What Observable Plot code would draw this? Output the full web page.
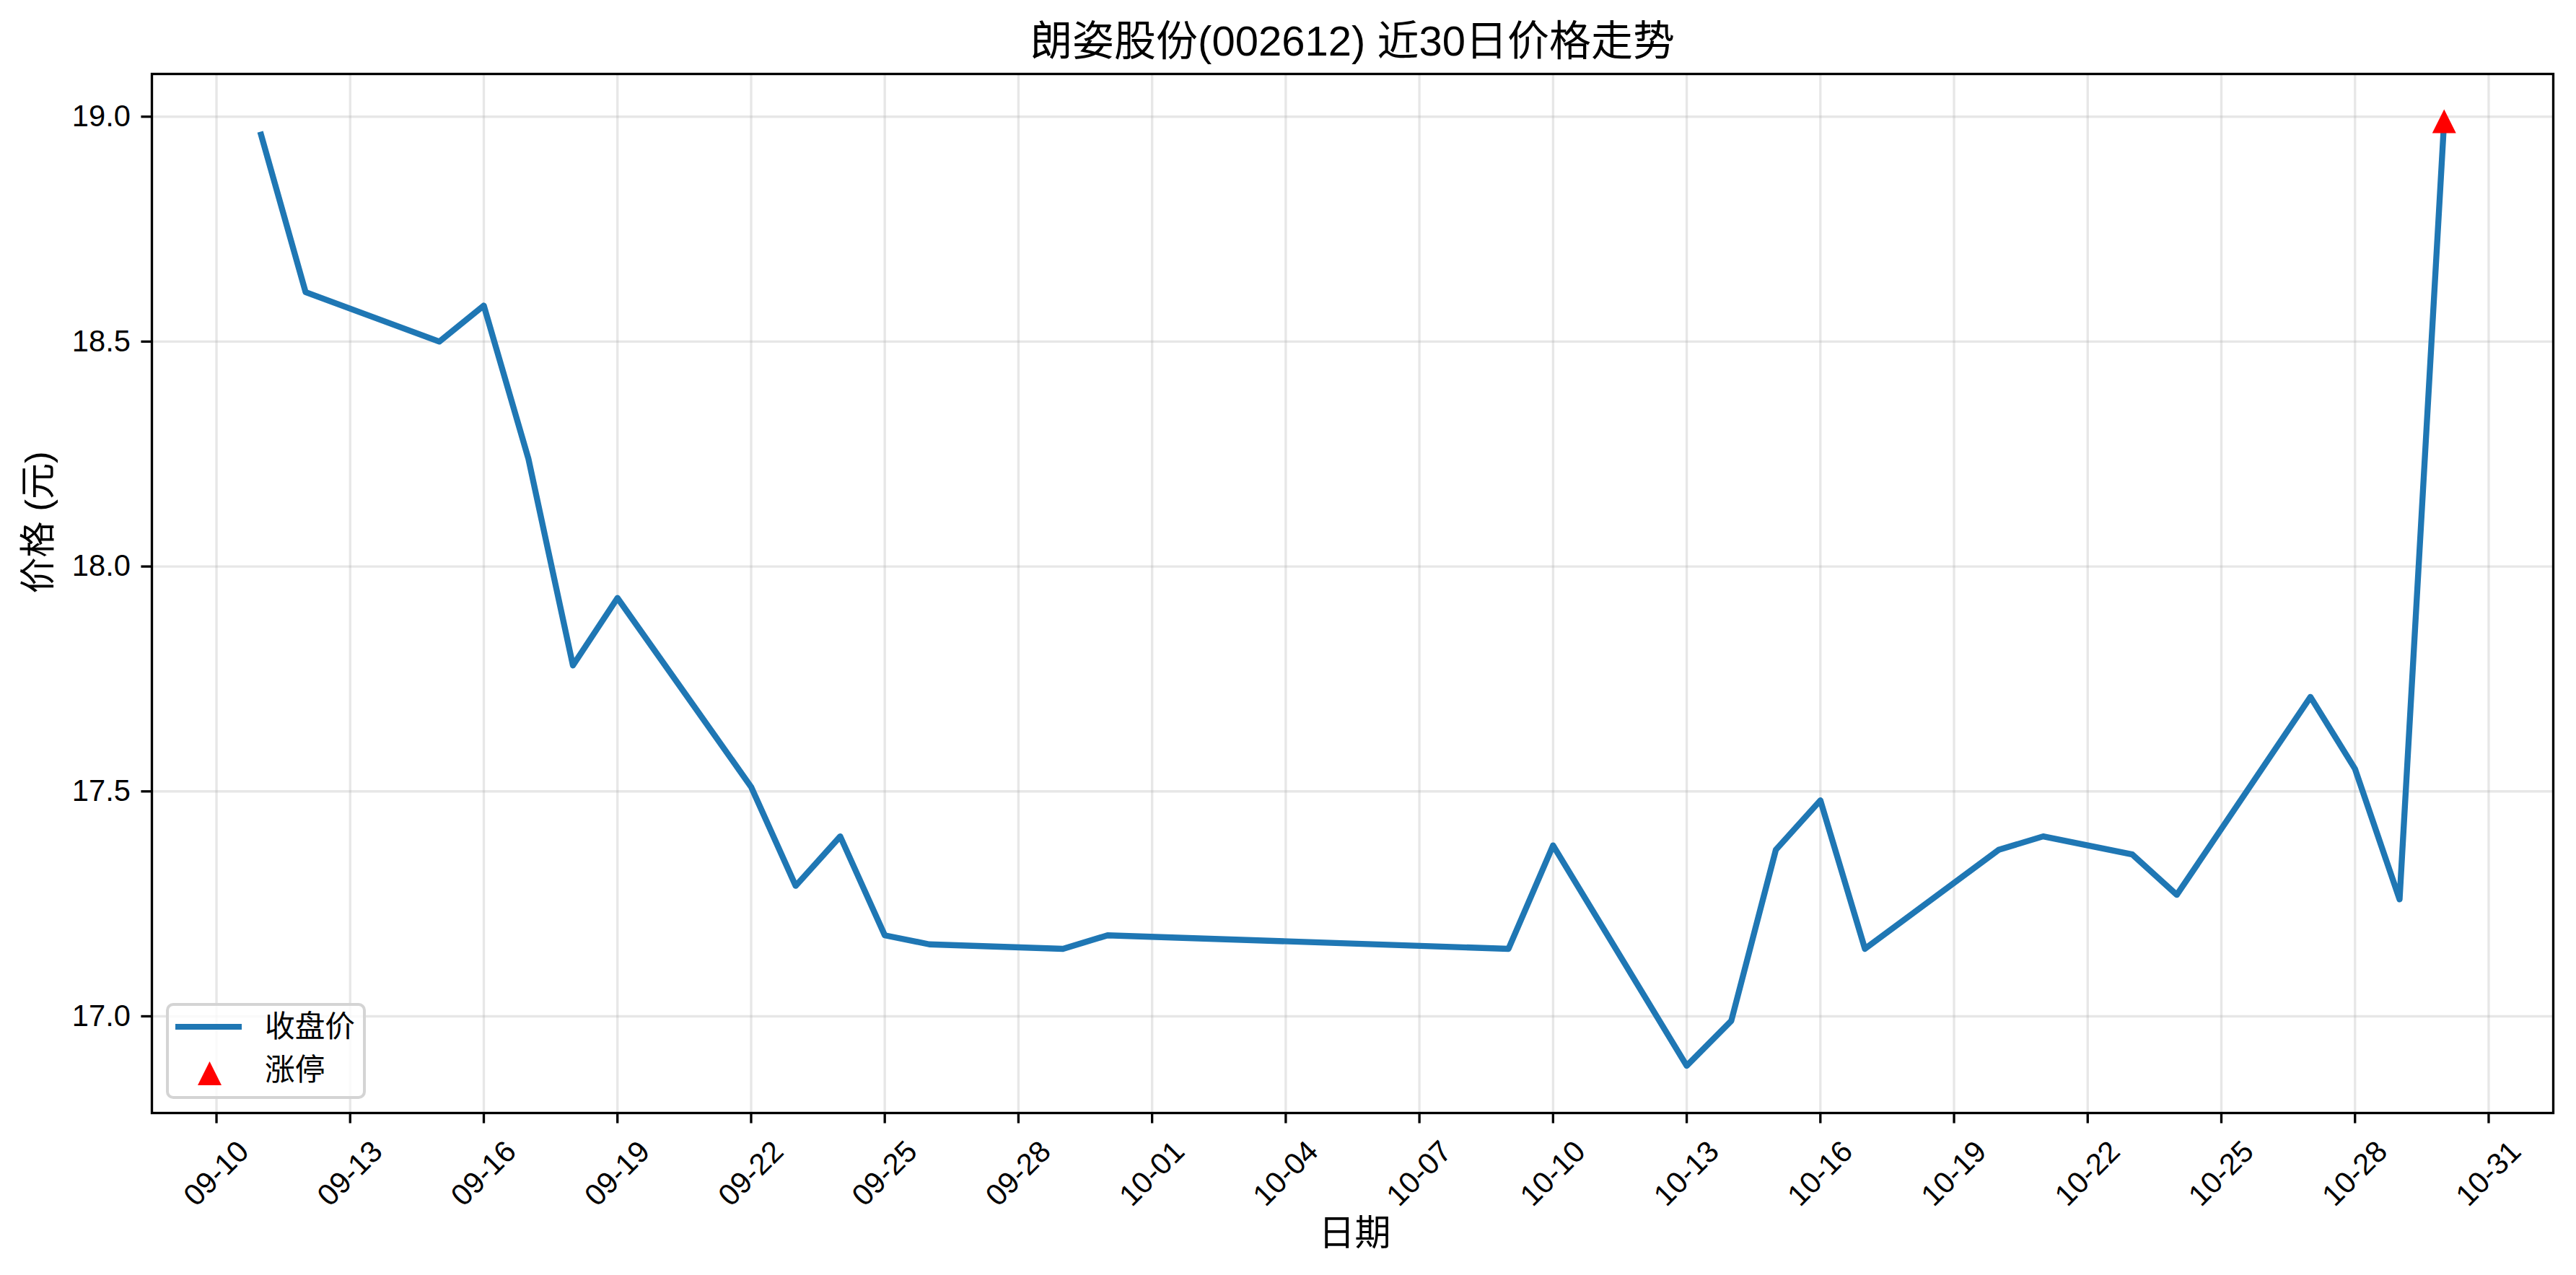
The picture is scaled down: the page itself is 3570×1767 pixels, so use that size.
<!DOCTYPE html>
<html>
<head>
<meta charset="utf-8">
<script src="https://cdn.jsdelivr.net/npm/d3@7"></script>
<script src="https://cdn.jsdelivr.net/npm/@observablehq/plot@0.6"></script>
<style>
html, body { margin: 0; padding: 0; background: #fff; }
#wrap { position: relative; width: 3570px; height: 1767px; font-family: "Liberation Sans", "Noto Sans CJK SC", sans-serif; }
#legend { position: absolute; left: 230px; top: 1390px; width: 277px; height: 133px; box-sizing: border-box;
  border: 4px solid rgba(204,204,204,0.85); border-radius: 10px; background: rgba(255,255,255,0.8); }
#legend .lab { position: absolute; left: 133px; font-size: 41.7px; line-height: 50px; color: #000; white-space: nowrap; }
</style>
</head>
<body>
<div id="wrap"></div>
<script>
// ---- data ----
const dates = ["2025-09-11","2025-09-12","2025-09-15","2025-09-16","2025-09-17","2025-09-18","2025-09-19",
  "2025-09-22","2025-09-23","2025-09-24","2025-09-25","2025-09-26","2025-09-29","2025-09-30",
  "2025-10-09","2025-10-10","2025-10-13","2025-10-14","2025-10-15","2025-10-16","2025-10-17",
  "2025-10-20","2025-10-21","2025-10-23","2025-10-24","2025-10-27","2025-10-28","2025-10-29","2025-10-30"];
const closes = [18.96, 18.61, 18.50, 18.58, 18.24, 17.78, 17.93,
  17.51, 17.29, 17.40, 17.18, 17.16, 17.15, 17.18,
  17.15, 17.38, 16.89, 16.99, 17.37, 17.48, 17.15,
  17.37, 17.40, 17.36, 17.27, 17.71, 17.55, 17.26, 18.99];
const limitUpDates = ["2025-10-30"];
const limitUpPrices = [18.99];
const xTickLabels = ["09-10","09-13","09-16","09-19","09-22","09-25","09-28","10-01","10-04","10-07",
  "10-10","10-13","10-16","10-19","10-22","10-25","10-28","10-31"];
const yTicks = [17.0, 17.5, 18.0, 18.5, 19.0];
const titleText = "朗姿股份(002612) 近30日价格走势";
const xLabel = "日期";
const yLabel = "价格 (元)";
const seriesNames = ["收盘价", "涨停"];

// ---- build ----
const parse = s => new Date(s + "T00:00:00Z");
const data = dates.map((d, i) => ({date: parse(d), close: closes[i]}));
const limitUp = limitUpDates.map((d, i) => ({date: parse(d), close: limitUpPrices[i]}));
const xTicks = xTickLabels.map(s => parse("2025-" + s));

const xExt = d3.extent(data, d => d.date);
const xPad = (xExt[1] - xExt[0]) * 0.05;
const yExt = d3.extent(data, d => d.close);
const yPad = (yExt[1] - yExt[0]) * 0.05;

const LW = 8.33, SW = 3.33, FS = 41.7;
const triSymbol = {draw(ctx, size) { const r = Math.sqrt(size / Math.PI); ctx.moveTo(0, -r); ctx.lineTo(r, r); ctx.lineTo(-r, r); ctx.closePath(); }};
const gridStyle = {stroke: "#b0b0b0", strokeOpacity: 0.3, strokeWidth: SW};

const chart = Plot.plot({
  width: 3570,
  height: 1767,
  marginLeft: 210,
  marginRight: 32,
  marginTop: 102,
  marginBottom: 225,
  style: {fontFamily: '"Liberation Sans", "Noto Sans CJK SC", sans-serif', fontSize: FS + "px", background: "#fff", color: "#000"},
  x: {type: "utc", domain: [new Date(+xExt[0] - xPad), new Date(+xExt[1] + xPad)]},
  y: {domain: [yExt[0] - yPad, yExt[1] + yPad]},
  marks: [
    Plot.gridX(xTicks, gridStyle),
    Plot.gridY(yTicks, gridStyle),
    Plot.lineY(data, {x: "date", y: "close", stroke: "#1f77b4", strokeWidth: LW, strokeLinejoin: "round", strokeLinecap: "square"}),
    Plot.dot(limitUp, {x: "date", y: "close", symbol: triSymbol, r: 16.5, fill: "#ff0000", stroke: "none"}),
    Plot.frame({stroke: "#000", strokeWidth: SW}),
    Plot.axisY(yTicks, {tickSize: 14.6, tickPadding: 15, strokeWidth: SW, tickFormat: d3.format(".1f"), fontSize: FS, label: null}),
    Plot.axisX(xTicks, {tickSize: 14.6, strokeWidth: SW, tickFormat: () => "", label: null}),
    Plot.text(xTicks, {x: d => d, text: d3.utcFormat("%m-%d"), frameAnchor: "bottom", dy: 84, rotate: -45,
      textAnchor: "middle", lineAnchor: "middle", fontSize: FS}),
    Plot.text([titleText], {text: d => d, frameAnchor: "top", dy: -44, lineAnchor: "middle", fontSize: 58}),
    Plot.text([xLabel], {text: d => d, frameAnchor: "bottom", dy: 167, dx: 3, lineAnchor: "middle", fontSize: 50}),
    Plot.text([yLabel], {text: d => d, frameAnchor: "left", dx: -157, rotate: -90, lineAnchor: "middle", fontSize: 50})
  ]
});
const wrap = document.getElementById("wrap");
wrap.appendChild(chart);

// ---- legend ----
const legend = document.createElement("div");
legend.id = "legend";
const ln = document.createElement("div");
Object.assign(ln.style, {position: "absolute", left: "9px", top: "24.8px", width: "92px", height: LW + "px", background: "#1f77b4"});
legend.appendChild(ln);
const t1 = document.createElement("div"); t1.className = "lab"; t1.style.top = "4px"; t1.textContent = seriesNames[0];
legend.appendChild(t1);
const svgNS = "http://www.w3.org/2000/svg";
const tri = document.createElementNS(svgNS, "svg");
tri.setAttribute("width", "33"); tri.setAttribute("height", "33");
Object.assign(tri.style, {position: "absolute", left: "39.5px", top: "76.5px"});
const poly = document.createElementNS(svgNS, "polygon");
poly.setAttribute("points", "16.5,0 33,33 0,33"); poly.setAttribute("fill", "#ff0000");
tri.appendChild(poly);
legend.appendChild(tri);
const t2 = document.createElement("div"); t2.className = "lab"; t2.style.top = "64px"; t2.textContent = seriesNames[1];
legend.appendChild(t2);
wrap.appendChild(legend);
</script>
</body>
</html>
